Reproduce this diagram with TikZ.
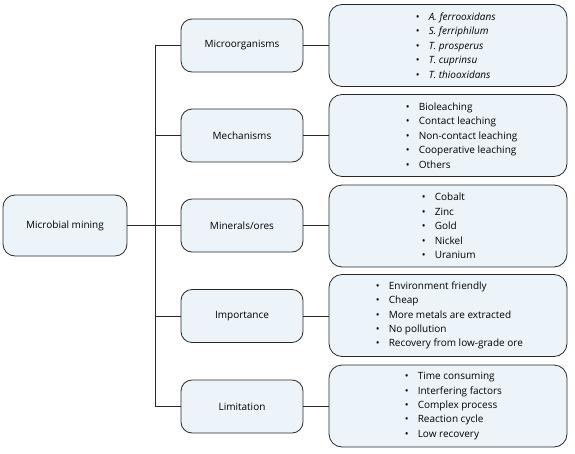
\documentclass[tikz,border=0pt]{standalone}
\usepackage{fontspec}
\setmainfont{Open Sans}
\usetikzlibrary{positioning}

\definecolor{boxfill}{RGB}{236,244,249}
\definecolor{boxline}{RGB}{40,40,40}

\begin{document}
\begin{tikzpicture}[
    x=1pt, y=-1pt,
    font=\fontsize{10}{14.4}\selectfont,
    rootbox/.style={draw=boxline, fill=boxfill, line width=0.8pt, rounded corners=12pt, minimum width=124pt, minimum height=61pt, align=center},
    topicbox/.style={draw=boxline, fill=boxfill, line width=0.8pt, rounded corners=11pt, minimum width=122pt, minimum height=53pt, align=center},
    listbox/.style={draw=boxline, fill=boxfill, line width=0.8pt, rounded corners=13pt, minimum width=238pt, minimum height=82pt},
    listtext/.style={anchor=west, align=left, inner sep=0pt},
    wire/.style={draw=boxline, line width=0.8pt}
]
    \newcommand{\bul}{\makebox[13pt][l]{\textbullet}}
    \useasboundingbox (0,0) rectangle (575,453);

    % Racine
    \node[rootbox] (root) at (65,225.5) {Microbial mining};

    % Categories
    \node[topicbox] (micro) at (242,45.5) {Microorganisms};
    \node[topicbox] (mech) at (242,135.5) {Mechanisms};
    \node[topicbox] (mine) at (242,225.5) {Minerals/ores};
    \node[topicbox] (impo) at (242,316) {Importance};
    \node[topicbox] (limi) at (242,406.5) {Limitation};

    % Listes
    \node[listbox] (l_micro) at (448,45.5) {};
    \node[listbox] (l_mech) at (448,135.5) {};
    \node[listbox] (l_mine) at (448,226) {};
    \node[listbox] (l_impo) at (448,315.5) {};
    \node[listbox] (l_limi) at (448,406) {};

    \node[listtext, right=87pt of l_micro.west] (t_micro) {\bul\textit{A. ferrooxidans}\\ \bul\textit{S. ferriphilum}\\ \bul\textit{T. prosperus}\\ \bul\textit{T. cuprinsu}\\ \bul\textit{T. thiooxidans}};
    \node[listtext, right=77pt of l_mech.west] (t_mech) {\bul Bioleaching\\ \bul Contact leaching\\ \bul Non-contact leaching\\ \bul Cooperative leaching\\ \bul Others};
    \node[listtext, right=93pt of l_mine.west] (t_mine) {\bul Cobalt\\ \bul Zinc\\ \bul Gold\\ \bul Nickel\\ \bul Uranium};
    \node[listtext, right=47pt of l_impo.west] (t_impo) {\bul Environment friendly\\ \bul Cheap\\ \bul More metals are extracted\\ \bul No pollution\\ \bul Recovery from low-grade ore};
    \node[listtext, right=76pt of l_limi.west] (t_limi) {\bul Time consuming\\ \bul Interfering factors\\ \bul Complex process\\ \bul Reaction cycle\\ \bul Low recovery};

    % Liaisons
    \coordinate (trunk) at (155,0);
    \draw[wire] (trunk |- micro.west) -- (trunk |- limi.west);
    \draw[wire] (root.east) -- (mine.west);
    \foreach \n in {micro,mech,impo,limi}
        \draw[wire] (trunk |- \n.west) -- (\n.west);
    \foreach \n in {micro,mech,mine,impo,limi}
        \draw[wire] (\n.east) -- (\n.east -| l_\n.west);

\end{tikzpicture}
\end{document}
